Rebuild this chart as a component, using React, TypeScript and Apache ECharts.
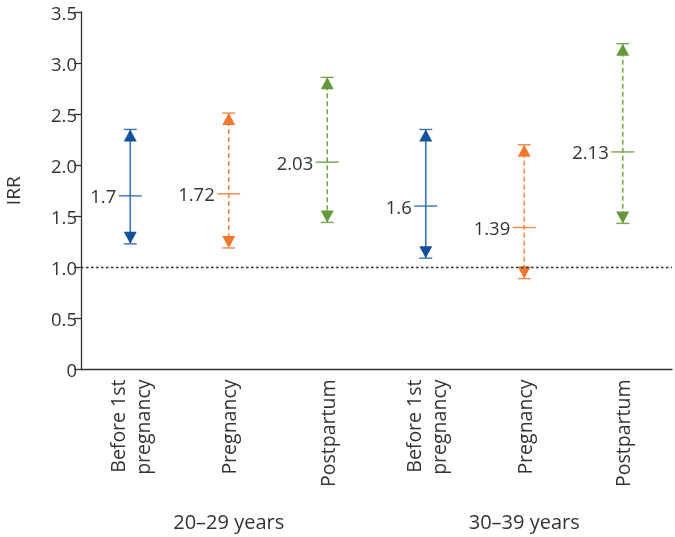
import React, { useEffect, useRef } from "react";
import * as echarts from "echarts";

const categories = [
  "Before 1st\npregnancy",
  "Pregnancy",
  "Postpartum",
  "Before 1st\npregnancy",
  "Pregnancy",
  "Postpartum",
];
const groupLabels = ["", "20–29 years", "", "", "30–39 years", ""];
const irr = [1.7, 1.72, 2.03, 1.6, 1.39, 2.13];
const lower = [1.23, 1.19, 1.44, 1.09, 0.89, 1.43];
const upper = [2.35, 2.51, 2.86, 2.35, 2.2, 3.19];
const phase = [0, 1, 2, 0, 1, 2];
const yTicks = [0, 0.5, 1, 1.5, 2, 2.5, 3, 3.5];

const lineColors = ["#3a76b8", "#f5884b", "#78a64d"];
const arrowColors = ["#13519c", "#f3772f", "#64983a"];
const dashed = [false, true, true];

const FONT = "Open Sans";
const TEXT = "#333333";

export default function App() {
  const ref = useRef<HTMLDivElement>(null);
  useEffect(() => {
    if (!ref.current) return;
    const chart = echarts.init(ref.current, null, { renderer: "svg" });
    const data = categories.map((_, i) => [i, lower[i], irr[i], upper[i], phase[i]]);
    chart.setOption({
      animation: false,
      textStyle: { fontFamily: FONT },
      grid: { left: 81, right: 3, top: 12, bottom: 167.5, outerBoundsMode: "none", containLabel: false },
      xAxis: [
        {
          type: "category",
          data: categories,
          axisLine: { lineStyle: { color: TEXT, width: 1.3 } },
          axisTick: { length: 6, lineStyle: { color: TEXT, width: 1.3 } },
          axisLabel: {
            rotate: 90,
            interval: 0,
            margin: 10,
            fontSize: 19.5,
            lineHeight: 25,
            color: TEXT,
            fontFamily: FONT,
          },
        },
        {
          type: "category",
          data: groupLabels,
          position: "bottom",
          offset: 136,
          axisLine: { show: false },
          axisTick: { show: false },
          axisLabel: { interval: 0, fontSize: 20, color: TEXT, fontFamily: FONT, margin: 6 },
        },
      ],
      yAxis: {
        type: "value",
        min: 0,
        max: 3.5,
        interval: 0.5,
        name: "IRR",
        nameLocation: "middle",
        nameGap: 59,
        nameTextStyle: { fontSize: 19, color: TEXT, fontFamily: FONT },
        splitLine: { show: false },
        axisLine: { show: true, lineStyle: { color: TEXT, width: 1.3 } },
        axisTick: { show: true, length: 7, lineStyle: { color: TEXT, width: 1.3 } },
        axisLabel: {
          fontSize: 18.5,
          color: TEXT,
          margin: 4,
          fontFamily: FONT,
          formatter: (v: number) => (yTicks.indexOf(v) === 0 ? "0" : v.toFixed(1)),
        },
      },
      series: [
        {
          type: "custom",
          xAxisIndex: 0,
          data,
          renderItem: (params: any, api: any) => {
            const i = api.value(0);
            const lo = api.coord([i, api.value(1)]);
            const mid = api.coord([i, api.value(2)]);
            const hi = api.coord([i, api.value(3)]);
            const p = api.value(4);
            const x = mid[0];
            const lc = lineColors[p];
            const ac = arrowColors[p];
            const ls: any = { stroke: lc, lineWidth: 1.6 };
            if (dashed[p]) ls.lineDash = [5, 3];
            const capW = 6.5;
            const triH = 12;
            const triW = 6.5;
            return {
              type: "group",
              children: [
                { type: "line", shape: { x1: x, y1: hi[1], x2: x, y2: lo[1] }, style: ls },
                { type: "line", shape: { x1: x - capW, y1: hi[1], x2: x + capW, y2: hi[1] }, style: { stroke: lc, lineWidth: 1.4 } },
                { type: "line", shape: { x1: x - capW, y1: lo[1], x2: x + capW, y2: lo[1] }, style: { stroke: lc, lineWidth: 1.4 } },
                { type: "line", shape: { x1: x - 11.5, y1: mid[1], x2: x + 11.5, y2: mid[1] }, style: { stroke: lc, lineWidth: 1.4 } },
                {
                  type: "polygon",
                  shape: { points: [[x, hi[1]], [x - triW, hi[1] + triH], [x + triW, hi[1] + triH]] },
                  style: { fill: ac },
                },
                {
                  type: "polygon",
                  shape: { points: [[x, lo[1]], [x - triW, lo[1] - triH], [x + triW, lo[1] - triH]] },
                  style: { fill: ac },
                },
                {
                  type: "text",
                  x: x - 14,
                  y: mid[1],
                  style: {
                    text: String(api.value(2)),
                    align: "right",
                    verticalAlign: "middle",
                    fontSize: 18.5,
                    fontFamily: FONT,
                    fill: TEXT,
                  },
                },
              ],
            };
          },
          markLine: {
            silent: true,
            symbol: "none",
            label: { show: false },
            lineStyle: { color: TEXT, type: [2.5, 2.5], width: 1.3 },
            data: [{ yAxis: 1 }],
          },
        },
      ],
    });
    return () => chart.dispose();
  }, []);
  return (
    <div
      ref={ref}
      style={{ position: "fixed", left: 0, top: 0, width: 675, height: 537 }}
    />
  );
}
